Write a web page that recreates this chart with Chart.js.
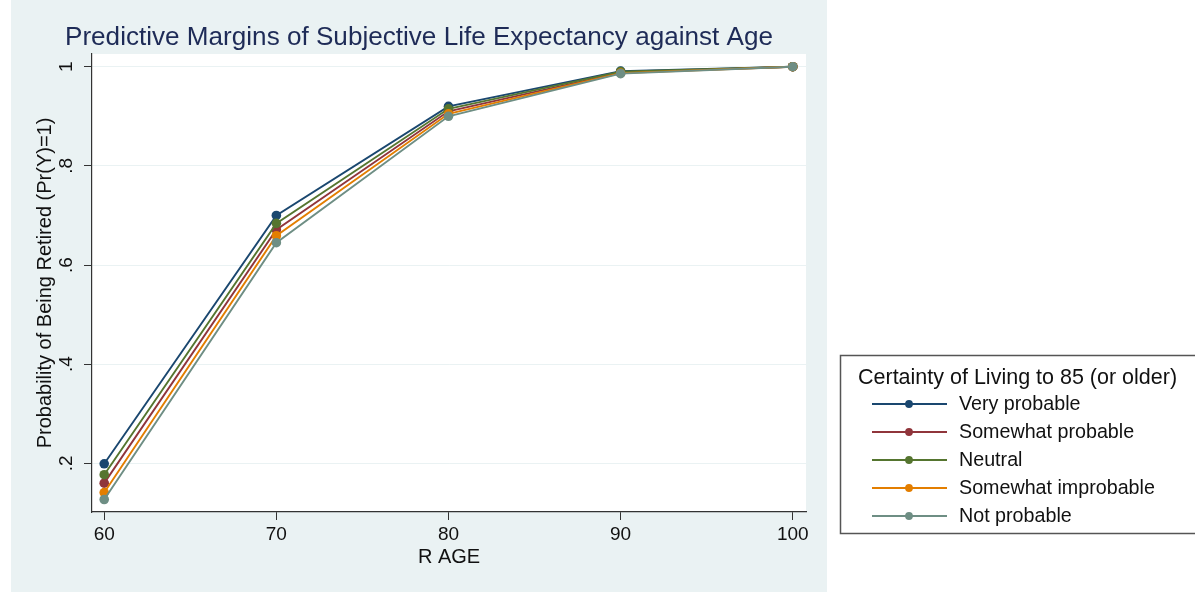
<!DOCTYPE html>
<html><head><meta charset="utf-8">
<script src="https://cdn.jsdelivr.net/npm/chart.js@4.4.1/dist/chart.umd.min.js"></script>
<style>html,body{margin:0;padding:0;background:#fff;}canvas{display:block;}</style>
</head><body>
<canvas id="c" width="1195" height="592" style="width:1195px;height:592px"></canvas>
<script>
const ages = [60, 70, 80, 90, 100];
const seriesNames = ["Very probable", "Somewhat probable", "Neutral", "Somewhat improbable", "Not probable"];
const veryProbable       = [0.199, 0.700, 0.920, 0.991, 1.000];
const somewhatProbable   = [0.160, 0.671, 0.910, 0.988, 1.000];
const neutral            = [0.177, 0.684, 0.915, 0.990, 1.000];
const somewhatImprobable = [0.141, 0.659, 0.905, 0.987, 1.000];
const notProbable        = [0.127, 0.645, 0.900, 0.986, 1.000];
const yTicks = [0.2, 0.4, 0.6, 0.8, 1];
const yTickLabels = [".2", ".4", ".6", ".8", "1"];
const xTicks = [60, 70, 80, 90, 100];
const seriesValues = [veryProbable, somewhatProbable, neutral, somewhatImprobable, notProbable];
const colors = ["#1a476f", "#90353b", "#55752f", "#e37e00", "#6e8e84"];

const FONT = "'Liberation Sans', Arial, sans-serif";

const bgPlugin = {
  id: 'bg',
  beforeDraw(chart) {
    const ctx = chart.ctx, a = chart.chartArea;
    ctx.save();
    ctx.fillStyle = '#ffffff';
    ctx.fillRect(0, 0, chart.width, chart.height);
    ctx.fillStyle = '#eaf2f3';
    ctx.fillRect(11, 0, 816, chart.height);
    ctx.fillStyle = '#ffffff';
    ctx.fillRect(a.left, a.top, a.right - a.left, a.bottom - a.top);
    ctx.restore();
  },
  afterDraw(chart) {
    const ctx = chart.ctx;
    ctx.save();
    const t = "Predictive Margins of Subjective Life Expectancy against Age";
    ctx.font = "25px " + FONT;
    const w = ctx.measureText(t).width;
    ctx.fillStyle = '#1e2b57';
    ctx.textBaseline = 'alphabetic';
    ctx.translate(65, 45);
    ctx.scale(708 / w, 1);
    ctx.fillText(t, 0, 0);
    ctx.restore();
    ctx.save();
    ctx.fillStyle = '#ffffff';
    ctx.fillRect(840, 355, 400, 179);
    ctx.strokeStyle = '#555555';
    ctx.lineWidth = 1.5;
    ctx.strokeRect(840.5, 355.5, 400, 178);
    ctx.fillStyle = '#111111';
    ctx.font = "21.5px " + FONT;
    ctx.textBaseline = 'middle';
    ctx.fillText("Certainty of Living to 85 (or older)", 858, 378);
    ctx.font = "19.7px " + FONT;
    chart.data.datasets.forEach((ds, i) => {
      const y = 404 + i * 28;
      ctx.strokeStyle = ds.borderColor;
      ctx.lineWidth = 1.8;
      ctx.beginPath(); ctx.moveTo(872, y); ctx.lineTo(947, y); ctx.stroke();
      ctx.fillStyle = ds.borderColor;
      ctx.beginPath(); ctx.arc(909, y, 3.9, 0, Math.PI * 2); ctx.fill();
      ctx.fillStyle = '#111111';
      ctx.fillText(ds.label, 959, y + 1);
    });
    ctx.restore();
  }
};

const datasets = seriesNames.map((name, i) => ({
  label: name,
  data: ages.map((a, j) => ({x: a, y: seriesValues[i][j]})),
  borderColor: colors[i],
  backgroundColor: colors[i],
  borderWidth: 1.9,
  pointRadius: 4.8,
  pointBorderWidth: 0,
  pointHoverRadius: 4.8,
  tension: 0,
  order: -i
}));

new Chart(document.getElementById('c'), {
  type: 'line',
  data: { datasets },
  plugins: [bgPlugin],
  options: {
    responsive: false,
    devicePixelRatio: 1,
    animation: false,
    events: [],
    layout: { padding: { left: 0, top: 54, right: 389, bottom: 0 } },
    plugins: { legend: { display: false }, title: { display: false }, tooltip: { enabled: false } },
    scales: {
      x: {
        type: 'linear', min: 59.29, max: 100.77,
        afterBuildTicks(s) { s.ticks = xTicks.map(v => ({value: v})); },
        afterFit(s) { s.height = 80; },
        grid: { drawOnChartArea: false, drawTicks: true, tickLength: 8, tickColor: '#333', tickWidth: 1 },
        border: { display: true, color: '#333', width: 1.2 },
        ticks: { color: '#111', font: { family: FONT, size: 19 }, padding: 3, maxRotation: 0, minRotation: 0 },
        title: { display: true, text: 'R AGE', color: '#111', font: { family: FONT, size: 20 }, padding: { top: 0, bottom: 23 } }
      },
      y: {
        type: 'linear', min: 0.1018, max: 1.0256,
        afterBuildTicks(s) { s.ticks = yTicks.map(v => ({value: v})); },
        afterFit(s) { s.width = 92; },
        grid: { color: '#eaf2f3', lineWidth: 1, drawTicks: true, tickLength: 8, tickColor: '#333', tickWidth: 1 },
        border: { display: true, color: '#333', width: 1.2 },
        ticks: {
          color: '#111', font: { family: FONT, size: 19 }, padding: 9, minRotation: 90, maxRotation: 90, crossAlign: 'center',
          callback: (v) => { const k = yTicks.indexOf(v); return k >= 0 ? yTickLabels[k] : ''; }
        },
        title: { display: true, text: 'Probability of Being Retired (Pr(Y)=1)', color: '#111', font: { family: FONT, size: 20 }, padding: { top: 33, bottom: 0 } }
      }
    }
  }
});
</script>
</body></html>
